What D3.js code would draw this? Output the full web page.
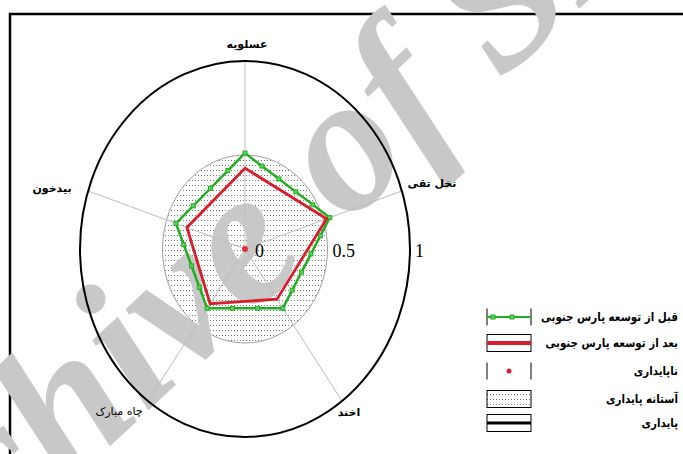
<!DOCTYPE html>
<html>
<head>
<meta charset="utf-8">
<script src="https://cdn.jsdelivr.net/npm/d3@7"></script>
<style>
  html, body { margin: 0; padding: 0; background: #fff; }
  svg { display: block; }
</style>
</head>
<body>
<svg id="chart"></svg>
<script>
// axis names, clockwise from the top
const categories = ["عسلویه", "نخل تقی", "اخند", "چاه مبارک", "بیدخون"]
// قبل از توسعه پارس جنوبی
const before = [0.51, 0.54, 0.39, 0.39, 0.44]
// بعد از توسعه پارس جنوبی
const after = [0.43, 0.52, 0.33, 0.36, 0.37]
const ticks = [0, 0.5, 1]
const tickLabels = ["0", "0.5", "1"]
const threshold = 0.5
const legendLabels = [
  "قبل از توسعه پارس جنوبی",
  "بعد از توسعه پارس جنوبی",
  "ناپایداری",
  "آستانه پایداری",
  "پایداری"
]

const width = 683, height = 454
const cx = 245, cy = 249
const green = "#1fae1f", red = "#d81e2c"

const svg = d3.select("#chart").attr("width", width).attr("height", height)

const defs = svg.append("defs")
const pat = defs.append("pattern")
  .attr("id", "dots")
  .attr("patternUnits", "userSpaceOnUse")
  .attr("width", 3).attr("height", 5)
pat.append("rect").attr("width", 1).attr("height", 1).attr("fill", "#777")

// radial scales (the plot is a bit taller than wide)
const rX = d3.scaleLinear().domain([0, 1]).range([0, 165])
const rY = d3.scaleLinear().domain([0, 1]).range([0, 188])
const angle = d3.scaleLinear().domain([0, categories.length]).range([0, 2 * Math.PI])

const px = (v, i) => cx + rX(v) * Math.sin(angle(i))
const py = (v, i) => cy - rY(v) * Math.cos(angle(i))

// frame
svg.append("rect")
  .attr("x", 10).attr("y", 14)
  .attr("width", 720).attr("height", 500)
  .attr("fill", "none").attr("stroke", "#000").attr("stroke-width", 2.5)

// stability threshold zone
svg.append("ellipse")
  .attr("cx", cx).attr("cy", cy)
  .attr("rx", rX(threshold)).attr("ry", rY(threshold))
  .attr("fill", "url(#dots)")
  .attr("stroke", "#888").attr("stroke-width", 0.8)

// watermark
svg.append("text")
  .attr("transform", "rotate(-4,60,400) translate(-168,672) rotate(-39)")
  .attr("font-family", "Liberation Serif")
  .attr("font-style", "italic")
  .attr("font-weight", "bold")
  .attr("font-size", 195)
  .attr("fill", "#c8c8c8")
  .text("Archive of SID")

// spokes
svg.append("g")
  .selectAll("line")
  .data(categories)
  .join("line")
  .attr("x1", cx).attr("y1", cy)
  .attr("x2", (d, i) => px(1, i))
  .attr("y2", (d, i) => py(1, i))
  .attr("stroke", "#bdbdbd").attr("stroke-width", 1)

// outer limit
svg.append("ellipse")
  .attr("cx", cx).attr("cy", cy)
  .attr("rx", rX(1)).attr("ry", rY(1))
  .attr("fill", "none").attr("stroke", "#000").attr("stroke-width", 2)

const line = d3.line()
  .x(d => px(d[0], d[1]))
  .y(d => py(d[0], d[1]))
  .curve(d3.curveLinearClosed)

svg.append("path")
  .datum(before.map((v, i) => [v, i]))
  .attr("d", line)
  .attr("fill", "none").attr("stroke", green).attr("stroke-width", 2.5)

// small markers along the green outline
const marks = []
before.forEach((v, i) => {
  const j = (i + 1) % before.length
  const x0 = px(v, i), y0 = py(v, i)
  const x1 = px(before[j], j), y1 = py(before[j], j)
  const n = Math.max(2, Math.round(Math.hypot(x1 - x0, y1 - y0) / 22))
  for (let k = 0; k < n; k++) {
    marks.push([x0 + (x1 - x0) * k / n, y0 + (y1 - y0) * k / n])
  }
})
svg.append("g")
  .selectAll("rect")
  .data(marks)
  .join("rect")
  .attr("x", d => d[0] - 2).attr("y", d => d[1] - 2)
  .attr("width", 4).attr("height", 4)
  .attr("fill", "#5fcf5f").attr("stroke", green).attr("stroke-width", 1)

svg.append("path")
  .datum(after.map((v, i) => [v, i]))
  .attr("d", line)
  .attr("fill", "none").attr("stroke", red).attr("stroke-width", 2.8)

// instability point
svg.append("circle")
  .attr("cx", cx).attr("cy", cy).attr("r", 3)
  .attr("fill", "#e0303c")

// tick labels
svg.append("g")
  .selectAll("text")
  .data(ticks)
  .join("text")
  .attr("x", d => cx + rX(d) + (d === 0 ? 10 : 5))
  .attr("y", cy + 8)
  .attr("font-family", "Liberation Serif")
  .attr("font-size", 18)
  .text((d, i) => tickLabels[i])

// category labels
const labelPos = [[247, 48], [432, 187], [349, 416], [119, 415], [52, 192]]
svg.append("g")
  .selectAll("text")
  .data(categories)
  .join("text")
  .attr("x", (d, i) => labelPos[i][0])
  .attr("y", (d, i) => labelPos[i][1])
  .attr("text-anchor", "middle")
  .attr("font-family", "DejaVu Sans")
  .attr("font-weight", (d, i) => (i === 3 ? "normal" : "bold"))
  .attr("font-size", 11)
  .text(d => d)

// legend
const lg = svg.append("g").attr("transform", "translate(487,0)")
const rowY = [317, 343, 371, 399, 423]
const bw = 44, bh = 17
rowY.forEach((y, i) => {
  const g = lg.append("g").attr("transform", `translate(0,${y})`)
  if (i === 0 || i === 2) {
    g.append("line").attr("x1", 0).attr("x2", 0).attr("y1", -bh / 2).attr("y2", bh / 2).attr("stroke", "#000")
    g.append("line").attr("x1", bw).attr("x2", bw).attr("y1", -bh / 2).attr("y2", bh / 2).attr("stroke", "#000")
  } else {
    g.append("rect").attr("x", 0).attr("y", -bh / 2).attr("width", bw).attr("height", bh)
      .attr("fill", i === 3 ? "url(#dots)" : "none").attr("stroke", "#000").attr("stroke-width", 1)
  }
  if (i === 0) {
    g.append("line").attr("x1", 0).attr("x2", bw).attr("stroke", green).attr("stroke-width", 2)
    ;[6, 25].forEach(x => g.append("rect").attr("x", x - 2).attr("y", -2).attr("width", 4).attr("height", 4)
      .attr("fill", "#5fcf5f").attr("stroke", green))
  }
  if (i === 1) g.append("line").attr("x1", 0).attr("x2", bw).attr("stroke", red).attr("stroke-width", 4)
  if (i === 2) g.append("circle").attr("cx", 22).attr("cy", 0).attr("r", 2.5).attr("fill", red)
  if (i === 4) g.append("line").attr("x1", 0).attr("x2", bw).attr("stroke", "#000").attr("stroke-width", 3)
  g.append("text")
    .attr("transform", "translate(191,4) scale(0.86,1)")
    .attr("text-anchor", "end")
    .attr("font-family", "DejaVu Sans")
    .attr("font-weight", "bold")
    .attr("font-size", 12)
    .text(legendLabels[i])
})
</script>
</body>
</html>
